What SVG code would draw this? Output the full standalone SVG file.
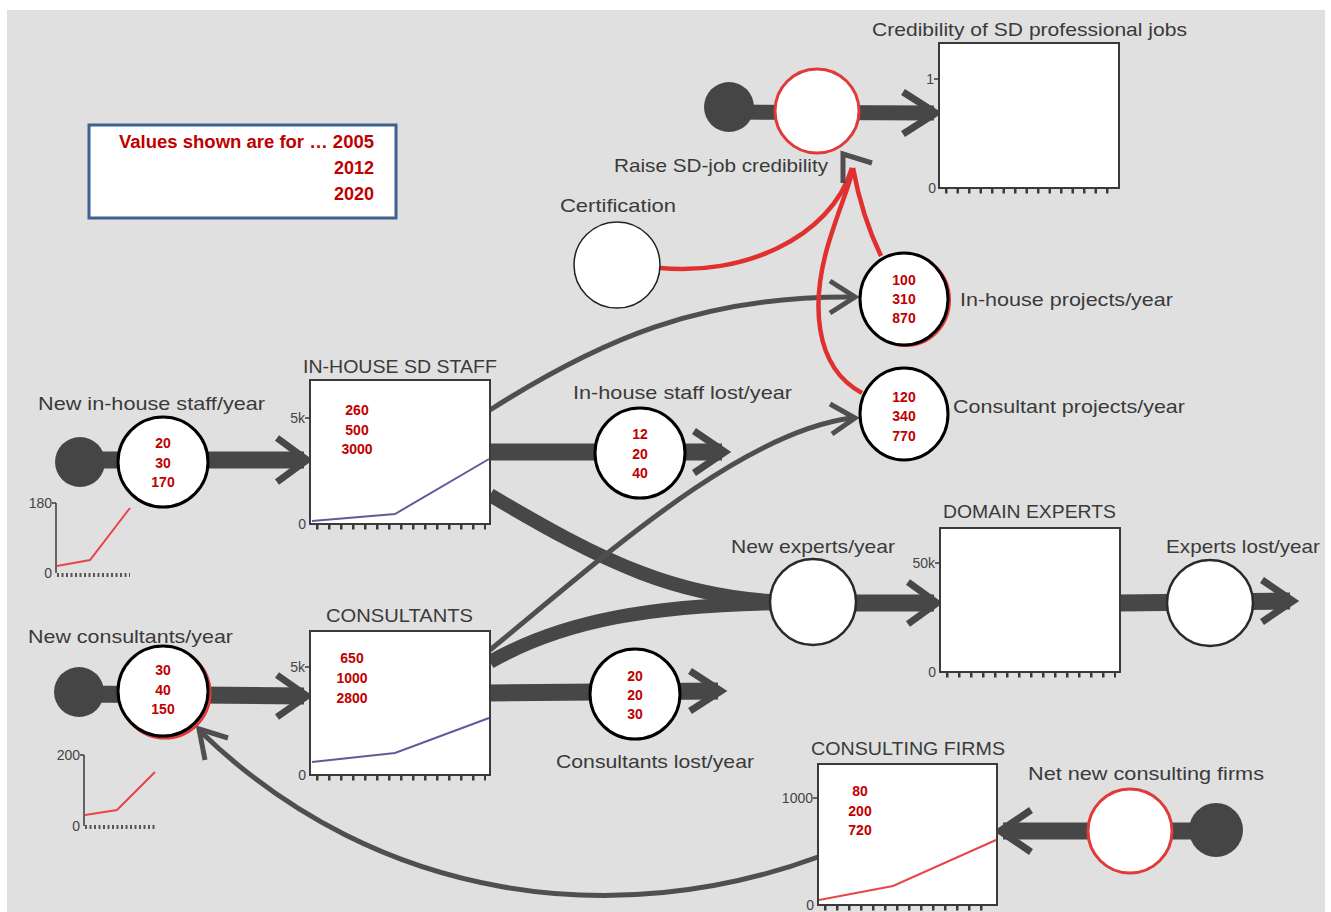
<svg xmlns="http://www.w3.org/2000/svg" width="1331" height="912" viewBox="0 0 1331 912">
<style>
.lbl{font-family:"Liberation Sans",Arial,sans-serif;font-size:19px;fill:#3a3a3a}
.val{font-family:"Liberation Sans",Arial,sans-serif;font-size:14px;font-weight:bold;fill:#c00000;text-anchor:middle}
.leg{font-family:"Liberation Sans",Arial,sans-serif;font-size:18px;font-weight:bold;fill:#c00000;text-anchor:end}
.ax{font-family:"Liberation Sans",Arial,sans-serif;font-size:14px;fill:#444;text-anchor:end}
.pipe{stroke:#474747;fill:none}
.chev{stroke:#474747;fill:none;stroke-width:7;stroke-linejoin:miter}
.thin{stroke:#4f4f4f;fill:none;stroke-width:5}
.box{fill:#fff;stroke:#3a3a3a;stroke-width:2}
.src{fill:#454545}
.flow{fill:#fff;stroke:#000;stroke-width:3}
.gflow{fill:#fff;stroke:#2a2a2a;stroke-width:2.5}
.rflow{fill:#fff;stroke:#e03a3a;stroke-width:3}
.red{stroke:#e0302f;stroke-width:4.5;fill:none}
.ticks{stroke:#3a3a3a;stroke-width:5;fill:none}
.yax{stroke:#3a3a3a;stroke-width:1.5;fill:none}
</style>
<rect x="0" y="0" width="1331" height="912" fill="#ffffff"/>
<rect x="7" y="10" width="1318" height="902" fill="#e0e0e0"/>

<g id="connectors">
  <line class="pipe" x1="730" y1="112" x2="934" y2="113" stroke-width="15"/>
  <polyline class="chev" points="903,92 936,113 903,134"/>
  <line class="pipe" x1="80" y1="460" x2="304" y2="460" stroke-width="17"/>
  <polyline class="chev" points="277,438 307,460 277,482"/>
  <line class="pipe" x1="490" y1="452" x2="722" y2="452" stroke-width="17"/>
  <polyline class="chev" points="694,431 725,452 694,473"/>
  <line class="pipe" x1="80" y1="694" x2="304" y2="696" stroke-width="17"/>
  <polyline class="chev" points="277,675 307,696 277,717"/>
  <line class="pipe" x1="490" y1="693" x2="718" y2="691" stroke-width="17"/>
  <polyline class="chev" points="690,671 721,691 690,711"/>
  <path class="pipe" d="M490,495 C600,560 680,602 800,602" stroke-width="14"/>
  <path class="pipe" d="M490,662 C560,622 650,603 800,603" stroke-width="14"/>
  <line class="pipe" x1="820" y1="603" x2="934" y2="603" stroke-width="17"/>
  <polyline class="chev" points="908,582 937,603 908,624"/>
  <line class="pipe" x1="1120" y1="603" x2="1290" y2="601" stroke-width="17"/>
  <polyline class="chev" points="1262,580 1293,601 1262,622"/>
  <line class="pipe" x1="1215" y1="831" x2="1003" y2="831" stroke-width="17"/>
  <polyline class="chev" points="1031,810 1000,831 1031,852"/>
  <path class="thin" d="M490,410 C600,340 700,296 852,297"/>
  <polyline class="thin" points="830,281 855,297 830,313"/>
  <path class="thin" d="M490,650 C600,560 740,432 852,418"/>
  <polyline class="thin" points="830,404 855,418 832,434"/>
  <path class="thin" d="M818,857 C620,930 380,905 201,732"/>
  <polyline class="thin" points="228,738 199,729 205,760"/>
  <path class="red" d="M660,268 C740,276 830,240 852,168"/>
  <path class="red" d="M881,256 C866,225 858,195 853,168"/>
  <path class="red" d="M862,393 C812,366 812,300 828,245 C840,205 850,185 853,168"/>
  <polyline class="thin" points="843,183 843,154 872,163" stroke-width="6"/>
</g>

<g id="legend">
  <rect x="89" y="125" width="307" height="93" fill="#fff" stroke="#3d6191" stroke-width="3"/>
  <text class="leg" x="374" y="148" textLength="255" lengthAdjust="spacingAndGlyphs">Values shown are for … 2005</text>
  <text class="leg" x="374" y="174">2012</text>
  <text class="leg" x="374" y="200">2020</text>
</g>

<g id="credibility">
  <text class="lbl" x="872" y="36" textLength="315" lengthAdjust="spacingAndGlyphs">Credibility of SD professional jobs</text>
  <rect class="box" x="939" y="43" width="180" height="145"/>
  <path class="ticks" d="M945,191 H1116" stroke-dasharray="2.5 9"/>
  <line class="yax" x1="934" y1="79" x2="939" y2="79"/>
  <text class="ax" x="934" y="84">1</text>
  <text class="ax" x="936" y="193">0</text>
</g>

<g id="raise">
  <circle class="src" cx="729" cy="107" r="25"/>
  <circle class="rflow" cx="817" cy="111" r="42"/>
  <text class="lbl" x="614" y="172" textLength="214" lengthAdjust="spacingAndGlyphs">Raise SD-job credibility</text>
</g>

<g id="certification">
  <circle cx="617" cy="265" r="43" fill="#fff" stroke="#222" stroke-width="1.5"/>
  <text class="lbl" x="560" y="212" textLength="116" lengthAdjust="spacingAndGlyphs">Certification</text>
</g>

<g id="inhouse-projects">
  <ellipse cx="906" cy="300" rx="44" ry="46" fill="none" stroke="#e03a3a" stroke-width="2"/>
  <ellipse class="flow" cx="904" cy="299" rx="44" ry="46"/>
  <text class="val" x="904" y="285">100</text>
  <text class="val" x="904" y="304">310</text>
  <text class="val" x="904" y="323">870</text>
  <text class="lbl" x="960" y="306" textLength="213" lengthAdjust="spacingAndGlyphs">In-house projects/year</text>
</g>

<g id="consultant-projects">
  <ellipse class="flow" cx="904" cy="414" rx="44" ry="46"/>
  <text class="val" x="904" y="402">120</text>
  <text class="val" x="904" y="421">340</text>
  <text class="val" x="904" y="441">770</text>
  <text class="lbl" x="953" y="413" textLength="232" lengthAdjust="spacingAndGlyphs">Consultant projects/year</text>
</g>

<g id="inhouse-staff">
  <text class="lbl" x="303" y="373" textLength="194" lengthAdjust="spacingAndGlyphs">IN-HOUSE SD STAFF</text>
  <rect class="box" x="310" y="380" width="180" height="144"/>
  <polyline points="312,521 395,514 489,459" fill="none" stroke="#5c5c9c" stroke-width="2"/>
  <path class="ticks" d="M316,527 H486" stroke-dasharray="2.5 9.5"/>
  <line class="yax" x1="305" y1="418" x2="310" y2="418"/>
  <text class="ax" x="305" y="423">5k</text>
  <text class="ax" x="306" y="529">0</text>
  <text class="val" x="357" y="415">260</text>
  <text class="val" x="357" y="435">500</text>
  <text class="val" x="357" y="454">3000</text>
</g>

<g id="new-inhouse">
  <circle class="src" cx="80" cy="462" r="25"/>
  <circle class="flow" cx="163" cy="462" r="45"/>
  <text class="val" x="163" y="448">20</text>
  <text class="val" x="163" y="468">30</text>
  <text class="val" x="163" y="487">170</text>
  <text class="lbl" x="38" y="410" textLength="227" lengthAdjust="spacingAndGlyphs">New in-house staff/year</text>
  <line class="yax" x1="56" y1="503" x2="56" y2="573"/>
  <line class="yax" x1="52" y1="503" x2="56" y2="503"/>
  <text class="ax" x="52" y="508">180</text>
  <text class="ax" x="52" y="578">0</text>
  <path d="M57,575 H130" stroke="#555" stroke-width="4" stroke-dasharray="2 2.5" fill="none"/>
  <polyline points="57,566 90,560 130,508" fill="none" stroke="#e8454a" stroke-width="2"/>
</g>

<g id="inhouse-lost">
  <circle class="flow" cx="640" cy="453" r="45"/>
  <text class="val" x="640" y="439">12</text>
  <text class="val" x="640" y="459">20</text>
  <text class="val" x="640" y="478">40</text>
  <text class="lbl" x="573" y="399" textLength="219" lengthAdjust="spacingAndGlyphs">In-house staff lost/year</text>
</g>

<g id="consultants">
  <text class="lbl" x="326" y="622" textLength="147" lengthAdjust="spacingAndGlyphs">CONSULTANTS</text>
  <rect class="box" x="310" y="631" width="180" height="144"/>
  <polyline points="312,762 395,753 489,718" fill="none" stroke="#5c5c9c" stroke-width="2"/>
  <path class="ticks" d="M316,778 H486" stroke-dasharray="2.5 9.5"/>
  <line class="yax" x1="305" y1="667" x2="310" y2="667"/>
  <text class="ax" x="305" y="672">5k</text>
  <text class="ax" x="306" y="780">0</text>
  <text class="val" x="352" y="663">650</text>
  <text class="val" x="352" y="683">1000</text>
  <text class="val" x="352" y="703">2800</text>
</g>

<g id="new-consultants">
  <circle class="src" cx="79" cy="692" r="25"/>
  <circle cx="165" cy="693" r="45" fill="none" stroke="#e03a3a" stroke-width="3"/>
  <circle class="flow" cx="163" cy="691" r="45"/>
  <text class="val" x="163" y="675">30</text>
  <text class="val" x="163" y="695">40</text>
  <text class="val" x="163" y="714">150</text>
  <text class="lbl" x="28" y="643" textLength="205" lengthAdjust="spacingAndGlyphs">New consultants/year</text>
  <line class="yax" x1="84" y1="755" x2="84" y2="826"/>
  <line class="yax" x1="80" y1="755" x2="84" y2="755"/>
  <text class="ax" x="80" y="760">200</text>
  <text class="ax" x="80" y="831">0</text>
  <path d="M85,827 H155" stroke="#555" stroke-width="4" stroke-dasharray="2 2.5" fill="none"/>
  <polyline points="85,815 117,810 155,772" fill="none" stroke="#e8454a" stroke-width="2"/>
</g>

<g id="consultants-lost">
  <circle class="flow" cx="635" cy="694" r="45"/>
  <text class="val" x="635" y="681">20</text>
  <text class="val" x="635" y="700">20</text>
  <text class="val" x="635" y="719">30</text>
  <text class="lbl" x="556" y="768" textLength="198" lengthAdjust="spacingAndGlyphs">Consultants lost/year</text>
</g>

<g id="new-experts">
  <circle class="gflow" cx="813" cy="602" r="43"/>
  <text class="lbl" x="731" y="553" textLength="164" lengthAdjust="spacingAndGlyphs">New experts/year</text>
</g>

<g id="domain-experts">
  <text class="lbl" x="943" y="518" textLength="173" lengthAdjust="spacingAndGlyphs">DOMAIN EXPERTS</text>
  <rect class="box" x="940" y="528" width="180" height="144"/>
  <path class="ticks" d="M946,675 H1116" stroke-dasharray="2.5 9.5"/>
  <line class="yax" x1="935" y1="563" x2="940" y2="563"/>
  <text class="ax" x="935" y="568">50k</text>
  <text class="ax" x="936" y="677">0</text>
</g>

<g id="experts-lost">
  <circle class="gflow" cx="1210" cy="603" r="43"/>
  <text class="lbl" x="1166" y="553" textLength="154" lengthAdjust="spacingAndGlyphs">Experts lost/year</text>
</g>

<g id="consulting-firms">
  <text class="lbl" x="811" y="755" textLength="194" lengthAdjust="spacingAndGlyphs">CONSULTING FIRMS</text>
  <rect class="box" x="818" y="764" width="179" height="141"/>
  <polyline points="819,900 893,886 996,840" fill="none" stroke="#e8454a" stroke-width="2"/>
  <path class="ticks" d="M824,908 H990" stroke-dasharray="2.5 9.5"/>
  <line class="yax" x1="813" y1="798" x2="818" y2="798"/>
  <text class="ax" x="813" y="803">1000</text>
  <text class="ax" x="814" y="910">0</text>
  <text class="val" x="860" y="796">80</text>
  <text class="val" x="860" y="816">200</text>
  <text class="val" x="860" y="835">720</text>
</g>

<g id="net-new-firms">
  <circle class="rflow" cx="1130" cy="831" r="42"/>
  <circle class="src" cx="1216" cy="830" r="27"/>
  <text class="lbl" x="1028" y="780" textLength="236" lengthAdjust="spacingAndGlyphs">Net new consulting firms</text>
</g>
</svg>
